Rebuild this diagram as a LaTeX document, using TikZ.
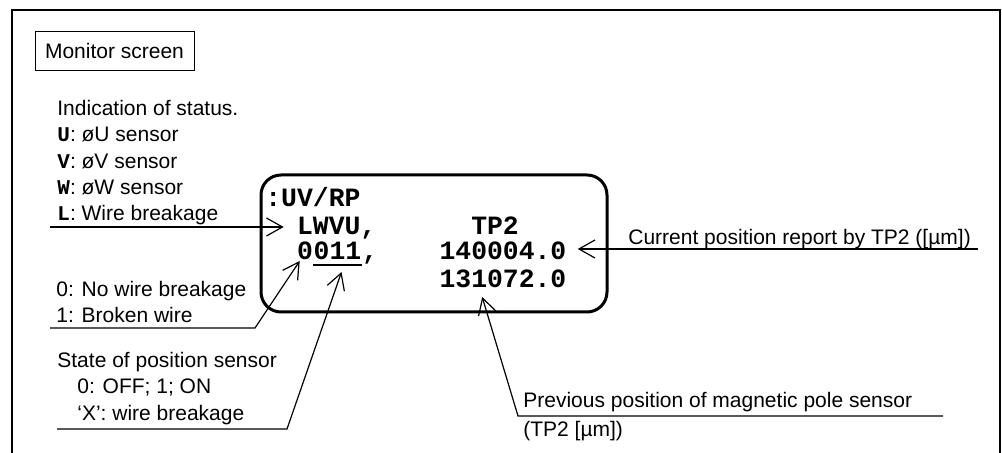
\documentclass[tikz,border=0pt]{standalone}
\usepackage{fontspec}
\setmainfont{Liberation Sans}
\setmonofont{Liberation Mono}
\usetikzlibrary{arrows.meta, positioning, calc}

\newcommand{\keyc}[1]{{\ttfamily\bfseries #1}}

\begin{document}
\begin{tikzpicture}[x=0.5pt, y=-0.5pt,
  lbl/.style={inner sep=0, align=left, font=\fontsize{10.5}{13.1}\selectfont},
  scr/.style={inner sep=0, anchor=base west, font=\ttfamily\bfseries\fontsize{13.2}{15}\selectfont},
  arr/.style={-{Straight Barb[length=8pt, width=9pt]}, line width=0.6pt}
]
\useasboundingbox (0,0) rectangle (1002,453);
% outer frame, open at the bottom
\draw[line width=1pt] (12,453) -- (12,10) -- (1000,10) -- (1000,453);
\node[draw, line width=0.5pt, inner sep=0, minimum width=79.5pt, minimum height=19.5pt,
  font=\fontsize{10.5}{13.1}\selectfont] (title) at (114.5,51.5) {Monitor screen};

% the screen
\node[draw, line width=1.5pt, rounded corners=10pt, minimum width=173pt, minimum height=68.5pt] (screen) at (434,243.5) {};
\node[scr] (cmd) at (265,207) {:UV/RP};
\node[scr] (lwvu) at (296.7,235) {LWVU,};
\node[scr] (tp) at (470.9,235) {TP2};
\node[scr] (bit0) at (296.7,260) {0};
\node[scr, base right=0pt of bit0] (bits) {011};
\node[scr, base right=0pt of bits] (comma) {,};
\node[scr] (pos) at (439.2,260) {140004.0};
\node[scr] (prev) at (439.2,288) {131072.0};
\draw[line width=0.7pt] ($(bits.base west)+(0,5)$) -- ($(bits.base east)+(0,5)$);

% labels
\node[lbl, anchor=north west] (status) at (57,100)
  {Indication of status.\\ \keyc{U}: øU sensor\\ \keyc{V}: øV sensor\\ \keyc{W}: øW sensor\\ \keyc{L}: Wire breakage};
\node[lbl, anchor=north west] (wire) at (56,281) {0: No wire breakage\\ 1: Broken wire};
\node[lbl, anchor=north west] (psens) at (57,352)
  {State of position sensor\\ \hspace*{10pt}0: OFF; 1; ON\\ \hspace*{10pt}‘X’: wire breakage};
\node[lbl, anchor=base west] (curlbl) at (628,245) {Current position report by TP2 ([µm])};
\node[lbl, anchor=base west] (prevlbl) at (523,408) {Previous position of magnetic pole sensor};
\node[lbl, anchor=base west] (prevunit) at (523,437) {(TP2 [µm])};

% connectors
\coordinate (lwire) at (50,227);
\coordinate (wbrk) at (50,328);
\coordinate (pline) at (57,429);
\coordinate (curend) at (978,249);
\coordinate (prevend) at (943,416);
\draw[arr] (lwire) -- ($(lwire -| lwvu.west)+(-13,0)$);
\draw[arr] (wbrk) -- ++(205,0) -- ($(bit0.base west)+(3,1)$);
\draw[arr] (pline) -- ++(230,0) -- ($(bits.base)+(4,12)$);
\draw[arr] (curend) -- ($(curend -| pos.east)+(11,0)$);
\draw[arr] (prevend) -- ++(-425,0) -- ($(prev.base west)+(43,9)$);
\end{tikzpicture}
\end{document}
